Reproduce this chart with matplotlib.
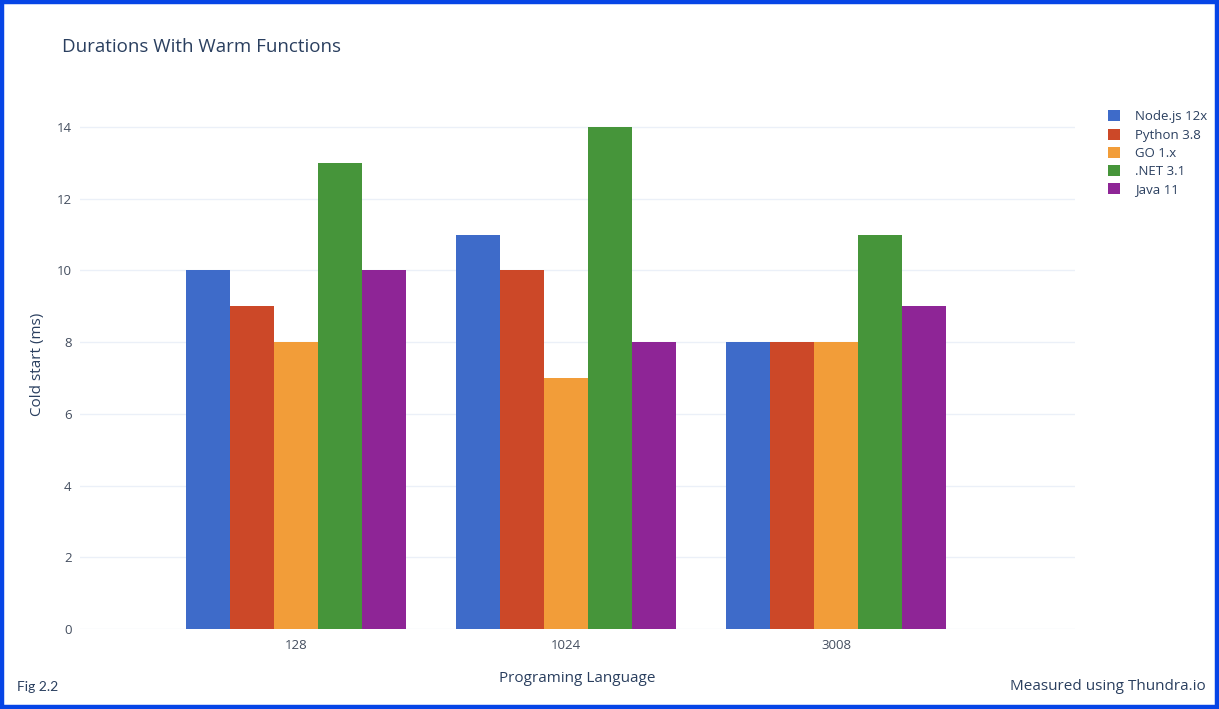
import numpy as np
import matplotlib
matplotlib.use('Agg')
import matplotlib.pyplot as plt
from matplotlib.patches import Rectangle

plt.rcParams['font.family'] = ['Open Sans', 'DejaVu Sans']

# Data
memory = ['128', '1024', '3008']
runtimes = ['Node.js 12x', 'Python 3.8', 'GO 1.x', '.NET 3.1', 'Java 11']
nodejs = [10, 11, 8]
python = [9, 10, 8]
golang = [8, 7, 8]
dotnet = [13, 14, 11]
java = [10, 8, 9]
colors = ['#3e6bc9', '#cc4828', '#f29d39', '#46953a', '#8e2596']

series = [nodejs, python, golang, dotnet, java]
text_col = '#2a3f5f'

fig = plt.figure(figsize=(12.19, 7.09), dpi=100)
ax = fig.add_axes([80 / 1219, 1 - 629 / 709, (1075 - 80) / 1219, (629 - 100.5) / 709])

x = np.arange(len(memory))
n = len(series)
group_w = 0.815
bw = group_w / n
for i, (vals, lab, c) in enumerate(zip(series, runtimes, colors)):
    off = -group_w / 2 + bw * (i + 0.5)
    ax.bar(x + off, vals, width=bw, color=c, label=lab, zorder=3)

ax.set_xlim(-0.8, 2.885)
ax.set_ylim(0, 14.74)
ax.set_yticks(np.arange(0, 15, 2))
ax.set_xticks(x)
ax.set_xticklabels(memory)
ax.grid(axis='y', color='#ebf0f8', linewidth=1, zorder=0)
for s in ax.spines.values():
    s.set_visible(False)
ax.tick_params(length=0, labelsize=9.5, labelcolor='#444e5f', pad=6)
ax.tick_params(axis='x', pad=7)

ax.set_ylabel('Cold start (ms)', fontsize=11, color=text_col, labelpad=8)
ax.set_xlabel('Programing Language', fontsize=11, color=text_col, labelpad=14)

fig.text(62 / 1219, 1 - 47.5 / 709, 'Durations With Warm Functions', fontsize=13.5,
         color=text_col, va='center', ha='left')
fig.text(17 / 1219, 1 - 687 / 709, 'Fig 2.2', fontsize=10, color=text_col,
         va='center', ha='left', family=['Lato', 'DejaVu Sans'])
fig.text(1206 / 1219, 1 - 687 / 709, 'Measured using Thundra.io', fontsize=11,
         color=text_col, va='center', ha='right')

leg = fig.legend(loc='upper left', bbox_to_anchor=(1103 / 1219, 1 - 105 / 709),
                 frameon=False, fontsize=9.5, handlelength=0.9, handleheight=0.9,
                 handletextpad=1.1, labelspacing=0.4, borderaxespad=0)
for t in leg.get_texts():
    t.set_color(text_col)

fig.patches.append(Rectangle((2 / 1219, 2 / 709), 1 - 4 / 1219, 1 - 4 / 709,
                             transform=fig.transFigure, fill=False,
                             edgecolor='#0645e6', linewidth=3.2, zorder=10))

fig.savefig('out.png', dpi=100)
